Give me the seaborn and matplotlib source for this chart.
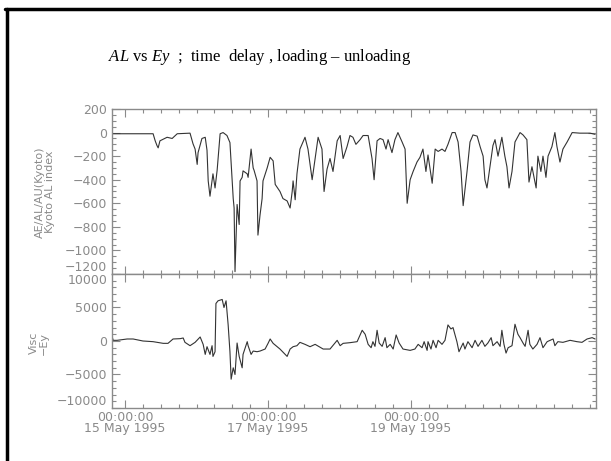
import matplotlib
matplotlib.use("Agg")
import matplotlib.pyplot as plt
import seaborn as sns
from matplotlib.lines import Line2D
from matplotlib.ticker import MultipleLocator, FixedLocator

# ---- data (hours after 15 May 1995 00:00 UT) ----
al_hours = [-4.4, 9.4, 10.1, 10.7, 11.1, 11.7, 14.1, 15.8, 17.5, 21.8, 22.8, 23.5, 24.2, 24.5,
            25.8, 26.9, 27.5, 27.9, 28.5, 29.5, 30.2, 30.9, 31.9, 32.9, 34.2, 35.2, 36.3, 36.6,
            36.9, 37.6, 38.3, 38.6, 39.3, 39.6, 41.0, 41.3, 42.3, 43.0, 43.3, 44.3, 44.6, 45.3,
            46.0, 46.3, 47.7, 48.7, 49.7, 50.4, 52.0, 53.0, 54.4, 55.4, 56.1, 56.4, 57.1, 57.7,
            58.7, 60.4, 61.4, 62.8, 63.8, 64.8, 66.1, 66.8, 67.8, 68.8, 69.8, 71.2, 72.2, 73.2,
            74.5, 75.5, 76.5, 77.5, 78.9, 79.9, 81.6, 82.9, 83.6, 84.6, 85.6, 86.6, 87.6, 88.3,
            89.6, 90.6, 91.6, 93.0, 94.0, 94.7, 95.7, 96.7, 98.0, 99.0, 100.0, 101.0, 101.7,
            103.1, 104.1, 105.1, 106.4, 107.4, 108.4, 109.8, 110.8, 111.8, 112.8, 113.5, 114.8,
            115.8, 116.8, 118.2, 119.2, 120.2, 120.8, 121.5, 122.5, 123.5, 124.2, 125.2, 126.5,
            127.5, 128.2, 128.9, 129.9, 130.9, 132.6, 133.6, 134.9, 135.6, 136.6, 137.3, 138.0,
            138.6, 139.6, 140.3, 141.3, 142.0, 143.3, 144.3, 145.0, 146.0, 147.0, 148.4, 150.1,
            152.7, 156.1, 157.8]
al_values = [-10, -10, -70, -110, -130, -70, -40, -50, -10, -5, -95, -140, -270, -170,
             -50, -40, -150, -410, -540, -350, -470, -320, -10, 0, -25, -85, -560, -640,
             -1180, -610, -780, -410, -380, -325, -350, -380, -140, -300, -320, -410, -870, -700,
             -560, -410, -300, -210, -240, -440, -500, -560, -580, -640, -500, -410, -570, -350,
             -140, -40, -140, -400, -220, -40, -140, -500, -310, -220, -330, -70, -25, -220,
             -120, -25, -40, -100, -60, -25, -25, -220, -400, -70, -50, -60, -140, -60,
             -170, -60, 0, -80, -140, -600, -400, -330, -250, -210, -140, -330, -190,
             -430, -140, -160, -140, -160, -100, 0, 0, -80, -330, -620, -330,
             -80, -20, -30, -120, -200, -400, -470, -290, -110, -60, -200, -40,
             -200, -290, -470, -330, -80, 0, -20, -60, -420, -290, -380, -470,
             -200, -330, -200, -380, -200, -120, 0, -120, -250, -140, -80, 0,
             -5, -5, -15]

ey_hours = [-4.4, -4.0, -2.7, 0.7, 2.7, 6.0, 9.4, 12.8, 14.4, 16.1, 18.5, 19.5, 20.1, 21.8,
            23.5, 25.2, 26.2, 26.9, 27.5, 28.5, 29.2, 29.5, 30.2, 30.5, 31.2, 32.6, 33.2, 33.9,
            34.6, 35.2, 35.6, 36.3, 36.9, 37.6, 38.3, 39.3, 39.6, 41.0, 41.3, 42.3, 43.0, 44.3,
            45.3, 47.0, 48.0, 48.7, 49.7, 52.0, 54.4, 55.4, 56.4, 57.7,
            58.7, 60.4, 62.1, 63.8, 66.5, 68.8, 71.2, 72.2, 73.2, 75.5, 77.9, 79.6, 80.6, 81.6,
            82.6, 83.2, 83.9, 84.6, 85.3, 86.3, 87.3, 87.9, 89.0, 90.0, 91.0, 92.0, 93.3, 95.7,
            97.3, 98.4, 99.7, 100.4, 101.4, 101.7, 102.7, 103.4, 104.4, 105.1, 106.4, 107.4,
            108.4, 109.4, 110.1, 111.4, 112.1, 113.5, 114.1, 115.1, 116.5, 117.5, 118.5, 119.8,
            120.8, 121.8, 122.9, 123.5, 124.9, 125.9, 126.5, 127.2, 127.9, 128.6, 129.9, 130.9,
            131.9, 132.6, 133.6, 134.3, 135.3, 135.9, 136.9, 138.3, 139.3, 140.3, 141.7, 142.7,
            143.7, 144.3, 145.3, 147.0, 149.4, 151.7, 153.4, 155.1, 156.8, 157.8]
ey_values = [700, 100, 100, 300, 300, 0, -100, -350, -350, 300, 350, 450, -200, -700,
             -200, 600, -500, -2000, -850, -2000, -700, -2300, -1600, 5600, 6000, 6200, 5000, 6000,
             2400, -1600, -5700, -4000, -5000, -300, -2300, -4000, -2000, -100, -700, -2000, -1500, -1600,
             -1500, -1200, -350, 300, -350, -1200, -2300, -1200, -850, -700,
             -200, -500, -850, -500, -1200, -1200, 100, -700, -350, -250, -100, 1600, 1000, -500,
             -1000, -100, -800, 1600, -300, -800, 500, -1000, -500, -1200, 900, -300, -1200, -1400,
             -1200, -500, -1000, -100, -1400, -100, -1200, 100, -1000, 100, -500, 100,
             2400, 1800, 2000, -100, -1600, -300, -1200, -100, -1000, 100, -800, 100,
             -800, -300, 500, -700, -100, -800, 1600, -500, -1800, -1000, -700, 2500,
             1000, 500, -300, -800, 1600, -500, -1200, -500, 500, -1000, -100, 100,
             300, -700, -100, -200, 100, -100, -200, 300, 500, 300]

x_tick_hours = [0, 48, 96]
x_tick_labels = ["00:00:00\n15 May 1995", "00:00:00\n17 May 1995", "00:00:00\n19 May 1995"]
al_ticks = [200, 0, -200, -400, -600, -800, -1000, -1200]
ey_ticks = [10000, 5000, 0, -5000, -10000]

# ---- style ----
sns.set_style("white")
plt.rcParams['font.family'] = ['DejaVu Sans']
plt.rcParams['mathtext.fontset'] = 'custom'
plt.rcParams['mathtext.rm'] = 'Liberation Serif'
plt.rcParams['mathtext.it'] = 'Liberation Serif:italic'

GRAY = '#8a8a8a'
LINE = '#333333'

fig = plt.figure(figsize=(6.11, 4.61), dpi=100)
ax1 = fig.add_axes([0.1833, 0.40564, 0.79214, 0.35792])
ax2 = fig.add_axes([0.1833, 0.11497, 0.79214, 0.29067])

sns.lineplot(x=al_hours, y=al_values, ax=ax1, color=LINE, lw=0.8, estimator=None)
sns.lineplot(x=ey_hours, y=ey_values, ax=ax2, color=LINE, lw=0.8, estimator=None)

xlim = (-4.4, 158.1)
for ax in (ax1, ax2):
    ax.set_xlim(*xlim)
    ax.xaxis.set_major_locator(FixedLocator(x_tick_hours))
    ax.xaxis.set_minor_locator(MultipleLocator(6))
    ax.tick_params(which='both', direction='in', top=True, right=True, bottom=True, left=True,
                   color=GRAY, labelcolor=GRAY, labelsize=9, width=0.8)
    ax.tick_params(which='major', length=6)
    ax.tick_params(which='minor', length=3)
    for s in ax.spines.values():
        s.set_color(GRAY)
        s.set_linewidth(1.0)
    ax.set_xlabel('')
    ax.set_ylabel('')


def fmt(v):
    return str(v).replace('-', '\u2212')


ax1.set_ylim(-1200, 200)
ax1.set_yticks(al_ticks)
ax1.set_yticklabels([fmt(v) for v in al_ticks])
ax1.yaxis.set_minor_locator(MultipleLocator(50))
ax1.set_xticklabels([])
for lab, v in zip(ax1.get_yticklabels(), al_ticks):
    if v == -1200:
        lab.set_va('bottom')

ax2.set_ylim(-10000, 10000)
ax2.set_yticks(ey_ticks)
ax2.set_yticklabels([fmt(v) for v in ey_ticks])
ax2.yaxis.set_minor_locator(MultipleLocator(1000))
for lab, v in zip(ax2.get_yticklabels(), ey_ticks):
    if v == 10000:
        lab.set_va('top')
    if v == -10000:
        lab.set_va('bottom')
ax2.set_xticks(x_tick_hours)
ax2.set_xticklabels(x_tick_labels, linespacing=0.85)
ax2.tick_params(axis='x', pad=2)

fig.text(45 / 611, 1 - 192 / 461, "AE/AL/AU(Kyoto)\nKyoto AL index", rotation=90,
         ha='center', va='center', color=GRAY, fontsize=8, linespacing=1.0)
fig.text(39 / 611, 1 - 343 / 461, "Visc\n\u2212Ey", rotation=90,
         ha='center', va='center', color=GRAY, fontsize=8, linespacing=1.0)

fig.text(108 / 611, 1 - 57 / 461, "$AL$ vs $Ey$  ;  time  delay , loading \u2013 unloading",
         fontfamily='Liberation Serif', fontsize=12, ha='left', va='center', color='black')

# slide frame
fig.add_artist(Line2D([5 / 611, 1.0], [1 - 9 / 461, 1 - 9 / 461], transform=fig.transFigure,
                      color='black', lw=2.5))
fig.add_artist(Line2D([6.5 / 611, 6.5 / 611], [0.0, 1 - 9 / 461], transform=fig.transFigure,
                      color='black', lw=2.5))

fig.savefig("out.png", dpi=100)
